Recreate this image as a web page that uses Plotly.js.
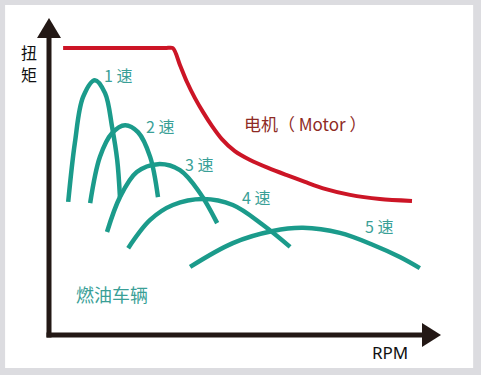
<!DOCTYPE html>
<html>
<head>
<meta charset="utf-8">
<script src="https://cdn.plot.ly/plotly-3.0.1.min.js"></script>
<style>html,body{margin:0;padding:0;background:#dcdce0;}#chart{width:481px;height:375px;}</style>
</head>
<body>
<div id="chart"></div>
<script>
// Motor torque curve (normalized RPM 0-100, torque 0-100)
var motorX = [3.6, 29.6, 31.6, 33.4, 35.2, 37.2, 39.3, 41.6, 44.1, 47.4, 51.3, 55.9, 60.5, 65.3, 70.4, 76.8, 84.4, 92.6];
var motorY = [90.5, 90.5, 90.5, 85.2, 79.8, 74.8, 70.3, 65.9, 61.8, 58.0, 55.2, 52.7, 50.5, 48.3, 46.1, 44.2, 42.9, 42.3];

// Engine torque per gear
var gear1X = [4.9, 6.6, 8.7, 11.7, 14.3, 16.1, 17.4, 18.1];
var gear1Y = [42.0, 60.6, 75.1, 80.4, 76.3, 65.6, 55.2, 43.5];
var gear2X = [10.5, 13.0, 16.1, 19.4, 22.7, 25.8, 27.8];
var gear2Y = [41.6, 56.2, 63.7, 66.2, 64.0, 56.2, 43.5];
var gear3X = [14.8, 18.1, 22.4, 27.8, 33.4, 38.5, 42.9];
var gear3Y = [32.5, 43.5, 51.4, 53.9, 52.0, 44.8, 35.3];
var gear4X = [20.2, 25.8, 31.6, 39.3, 46.9, 54.6, 61.5];
var gear4Y = [27.4, 36.3, 41.0, 42.9, 41.0, 34.7, 27.8];
var gear5X = [36.0, 46.9, 57.1, 64.8, 74.2, 82.7, 89.5, 94.6];
var gear5Y = [21.5, 29.0, 32.8, 33.8, 32.2, 28.4, 24.6, 21.1];

var gearNames = ["1 速", "2 速", "3 速", "4 速", "5 速"];
var gearLabelX = [17.6, 28.3, 38.3, 52.8, 84.2];
var gearLabelY = [82.0, 65.9, 53.9, 43.5, 34.4];

var motorName = "电机（ Motor ）";
var engineName = "燃油车辆";
var yTitleChars = ["扭", "矩"];
var xTitle = "RPM";

var teal = "#1b9b8b";
var tealText = "#3a9f97";
var red = "#cc1526";
var axisColor = "#231815";
var cjk = "'Noto Sans CJK SC', 'Noto Sans', sans-serif";

var gearsX = [gear1X, gear2X, gear3X, gear4X, gear5X];
var gearsY = [gear1Y, gear2Y, gear3Y, gear4Y, gear5Y];

var traces = [];
for (var i = 0; i < gearsX.length; i++) {
  traces.push({
    x: gearsX[i], y: gearsY[i], type: "scatter", mode: "lines",
    line: {color: teal, width: 4.5, shape: "spline", smoothing: 1},
    hoverinfo: "skip", showlegend: false, cliponaxis: false
  });
}
traces.push({
  x: motorX, y: motorY, type: "scatter", mode: "lines",
  line: {color: red, width: 4, shape: "spline", smoothing: 0.8},
  hoverinfo: "skip", showlegend: false, cliponaxis: false
});

var annotations = [];
for (var j = 0; j < gearNames.length; j++) {
  annotations.push({
    x: gearLabelX[j], y: gearLabelY[j], xref: "x", yref: "y",
    xanchor: "center", yanchor: "middle",
    text: gearNames[j], showarrow: false,
    font: {family: cjk, size: 16, color: tealText}
  });
}
annotations.push({x: 65.3, y: 66.6, xref: "x", yref: "y", xanchor: "center", yanchor: "middle",
  text: motorName, showarrow: false,
  font: {family: cjk, size: 17, color: "#8e2a24"}});
annotations.push({x: 16.1, y: 12.9, xref: "x", yref: "y", xanchor: "center", yanchor: "middle",
  text: engineName, showarrow: false,
  font: {family: cjk, size: 18, color: tealText}});
annotations.push({x: -0.051, y: 0.893, xref: "paper", yref: "paper", xanchor: "center", yanchor: "middle",
  text: yTitleChars[0], showarrow: false, borderpad: 0,
  font: {family: cjk, size: 16, color: "#111111"}});
annotations.push({x: -0.051, y: 0.823, xref: "paper", yref: "paper", xanchor: "center", yanchor: "middle",
  text: yTitleChars[1], showarrow: false, borderpad: 0,
  font: {family: cjk, size: 16, color: "#111111"}});
annotations.push({x: 0.870, y: -0.054, xref: "paper", yref: "paper", xanchor: "center", yanchor: "middle",
  text: xTitle, showarrow: false,
  font: {family: "'Noto Sans', sans-serif", size: 17, color: "#111111"}});

var shapes = [
  // white card
  {type: "rect", xref: "paper", yref: "paper", x0: -0.112, x1: 1.082, y0: -0.104, y1: 1.041,
   fillcolor: "#ffffff", line: {width: 0}, layer: "below"},
  // y axis line
  {type: "line", xref: "paper", yref: "paper", x0: 0, x1: 0, y0: -0.0079, y1: 0.945,
   line: {color: axisColor, width: 5}},
  // x axis line
  {type: "line", xref: "paper", yref: "paper", x0: -0.0064, x1: 0.955, y0: 0, y1: 0,
   line: {color: axisColor, width: 5}},
  // y arrow head
  {type: "path", xref: "paper", yref: "paper",
   path: "M -0.0306 0.937 L 0.0306 0.937 L 0 1 Z", fillcolor: axisColor, line: {width: 0}},
  // x arrow head
  {type: "path", xref: "paper", yref: "paper",
   path: "M 0.9515 0.0379 L 0.9515 -0.0379 L 1 0 Z", fillcolor: axisColor, line: {width: 0}}
];

var layout = {
  width: 481, height: 375,
  margin: {l: 49, r: 40, t: 18, b: 40, pad: 0},
  paper_bgcolor: "#dcdce0",
  plot_bgcolor: "rgba(0,0,0,0)",
  xaxis: {range: [0, 100], visible: false, fixedrange: true},
  yaxis: {range: [0, 100], visible: false, fixedrange: true},
  shapes: shapes,
  annotations: annotations,
  showlegend: false
};

Plotly.newPlot("chart", traces, layout, {staticPlot: true, displayModeBar: false});
</script>
</body>
</html>
